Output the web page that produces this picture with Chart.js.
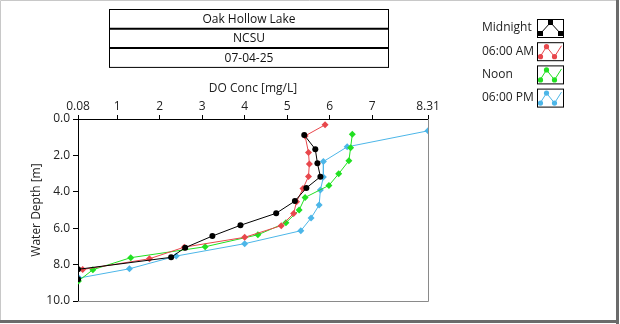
<!DOCTYPE html>
<html>
<head>
<meta charset="utf-8">
<script src="https://cdn.jsdelivr.net/npm/chart.js@4.4.1/dist/chart.umd.min.js"></script>
<style>
	html, body { margin: 0; padding: 0; background: #fff; }
	#wrap { position: relative; width: 620px; height: 324px; }
</style>
</head>
<body>
<div id="wrap"><canvas id="profile" width="620" height="324"></canvas></div>
<script>
const TITLE_LINES = ['Oak Hollow Lake', 'NCSU', '07-04-25'];

const X_TICKS = [0.08, 1, 2, 3, 4, 5, 6, 7, 8.31];
const Y_TICKS = [0, 2, 4, 6, 8, 10];

// DO concentration [mg/L] vs water depth [m]
const midnightDO = [5.40, 5.66, 5.71, 5.78, 5.45, 5.18, 4.74, 3.90, 3.24, 2.60, 2.27, 0.08, 0.08];
const midnightDepth = [0.88, 1.66, 2.43, 3.17, 3.79, 4.51, 5.18, 5.84, 6.43, 7.07, 7.60, 8.26, 8.81];

const amDO = [5.89, 5.42, 5.50, 5.52, 5.50, 5.37, 5.22, 5.15, 4.86, 4.00, 2.58, 1.76, 0.19];
const amDepth = [0.32, 0.93, 1.84, 2.47, 3.16, 3.82, 4.54, 5.19, 5.86, 6.50, 7.04, 7.68, 8.27];

const noonDO = [6.53, 6.49, 6.45, 6.21, 5.98, 5.42, 5.28, 4.97, 4.31, 3.07, 1.32, 0.43, 0.09];
const noonDepth = [0.84, 1.58, 2.29, 3.01, 3.65, 4.31, 5.00, 5.70, 6.36, 7.02, 7.62, 8.28, 8.90];

const pmDO = [8.31, 6.41, 5.85, 5.85, 5.78, 5.75, 5.56, 5.32, 4.00, 2.39, 1.29, 0.10];
const pmDepth = [0.65, 1.53, 2.34, 3.19, 3.90, 4.73, 5.44, 6.14, 6.85, 7.53, 8.23, 8.74];

const SERIES_LABELS = ['Midnight', '06:00 AM', 'Noon', '06:00 PM'];
const COLORS = ['#000000', '#e8474c', '#21e021', '#4cb6e8'];

const FONT = "'Open Sans', 'Noto Sans', sans-serif";

function pts(xs, ys) {
	return xs.map((x, i) => ({ x: x, y: ys[i] }));
}

function makeSet(i, xs, ys) {
	return {
		label: SERIES_LABELS[i],
		data: pts(xs, ys),
		showLine: true,
		borderColor: COLORS[i],
		backgroundColor: COLORS[i],
		borderWidth: 1,
		pointStyle: i === 0 ? 'circle' : 'rectRot',
		pointRadius: i === 0 ? 3 : 3.5,
		pointBorderWidth: 0,
		clip: 0,
	};
}

// title table, legend, frame, plot box right/bottom edges
const decor = {
	id: 'decor',
	beforeDatasetsDraw(chart) {
		const ctx = chart.ctx;
		const a = chart.chartArea;
		ctx.save();
		ctx.strokeStyle = '#8a8a8a';
		ctx.lineWidth = 1;
		ctx.beginPath();
		ctx.moveTo(a.right + 0.5, a.top);
		ctx.lineTo(a.right + 0.5, a.bottom + 0.5);
		ctx.lineTo(a.left, a.bottom + 0.5);
		ctx.stroke();
		ctx.restore();
	},
	afterDraw(chart) {
		const ctx = chart.ctx;
		ctx.save();

		// outer frame
		ctx.strokeStyle = '#c8c8c8';
		ctx.lineWidth = 1;
		ctx.beginPath();
		ctx.moveTo(0.5, 322);
		ctx.lineTo(0.5, 0.5);
		ctx.lineTo(618, 0.5);
		ctx.stroke();
		ctx.fillStyle = '#6b6b6b';
		ctx.fillRect(616, 0, 3, 324);
		ctx.fillRect(0, 320, 619, 3);

		// title table
		const tx = 109.5, tw = 279, ty = 9.5, rh = 19.3;
		ctx.strokeStyle = '#000';
		ctx.lineWidth = 1;
		ctx.strokeRect(tx, ty, tw, rh * 3);
		ctx.lineWidth = 2;
		for (let r = 1; r < 3; r++) {
			ctx.beginPath();
			ctx.moveTo(tx, ty + rh * r);
			ctx.lineTo(tx + tw, ty + rh * r);
			ctx.stroke();
		}
		ctx.fillStyle = '#111';
		ctx.font = '12px ' + FONT;
		ctx.textAlign = 'center';
		ctx.textBaseline = 'middle';
		TITLE_LINES.forEach((t, r) => {
			ctx.fillText(t, tx + tw / 2, ty + rh * r + rh / 2 + 0.5);
		});

		// legend
		ctx.textAlign = 'left';
		chart.data.datasets.forEach((ds, i) => {
			const top = 19 + i * 23.2;
			ctx.fillStyle = '#222';
			ctx.fillText(ds.label, 482, top + 9);
			const bx = 537.5, by = top + 0.5, bw = 26, bh = 18;
			ctx.fillStyle = '#fff';
			ctx.fillRect(bx, by, bw, bh);
			ctx.strokeStyle = '#000';
			ctx.lineWidth = 1;
			ctx.strokeRect(bx, by, bw, bh);
			let line, marks;
			if (i === 0) {
				line = [[3, 14], [13, 3], [23, 14]];
				marks = line;
			} else {
				line = [[2, 15], [9, 4], [17, 14], [24, 3]];
				marks = [[9, 4], [17, 14], [3, 14]];
			}
			ctx.strokeStyle = ds.borderColor;
			ctx.beginPath();
			line.forEach((p, k) => {
				if (k === 0) ctx.moveTo(bx + p[0], by + p[1]);
				else ctx.lineTo(bx + p[0], by + p[1]);
			});
			ctx.stroke();
			ctx.fillStyle = ds.borderColor;
			marks.forEach(p => {
				if (i === 0) {
					ctx.fillRect(bx + p[0] - 2.5, by + p[1] - 2.5, 5, 5);
				} else {
					ctx.beginPath();
					ctx.arc(bx + p[0], by + p[1], 2.6, 0, Math.PI * 2);
					ctx.fill();
				}
			});
		});
		ctx.restore();
	}
};

const config = {
	type: 'scatter',
	data: {
		datasets: [
			makeSet(0, midnightDO, midnightDepth),
			makeSet(1, amDO, amDepth),
			makeSet(2, noonDO, noonDepth),
			makeSet(3, pmDO, pmDepth),
		],
	},
	options: {
		responsive: false,
		animation: false,
		layout: { padding: { left: 22, top: 74, right: 192, bottom: 23 } },
		plugins: {
			legend: { display: false },
			tooltip: { enabled: false },
		},
		scales: {
			x: {
				type: 'linear',
				position: 'top',
				min: 0.08,
				max: 8.31,
				afterBuildTicks: (scale) => {
					scale.ticks = X_TICKS.map(v => ({ value: v }));
				},
				afterFit: (scale) => { scale.height = 45; },
				ticks: {
					color: '#222',
					font: { family: FONT, size: 12 },
					padding: 1,
					maxRotation: 0,
					autoSkip: false,
					callback: (v) => String(v),
				},
				grid: {
					drawOnChartArea: false,
					drawTicks: true,
					tickLength: 4,
					color: '#000',
				},
				border: { display: true, color: '#000', width: 1 },
				title: {
					display: true,
					text: 'DO Conc [mg/L]',
					color: '#222',
					font: { family: FONT, size: 12 },
					padding: { top: 7, bottom: 0 },
				},
			},
			y: {
				type: 'linear',
				reverse: true,
				min: 0,
				max: 10,
				afterBuildTicks: (scale) => {
					scale.ticks = Y_TICKS.map(v => ({ value: v }));
				},
				afterFit: (scale) => { scale.width = 56; },
				ticks: {
					color: '#222',
					font: { family: FONT, size: 12 },
					padding: 3,
					callback: (v) => Number(v).toFixed(1),
				},
				grid: {
					drawOnChartArea: false,
					drawTicks: true,
					tickLength: 5,
					color: '#000',
				},
				border: { display: true, color: '#000', width: 1 },
				title: {
					display: true,
					text: 'Water Depth [m]',
					color: '#222',
					font: { family: FONT, size: 12 },
					padding: { top: 7, bottom: 0 },
				},
			},
		},
	},
	plugins: [decor],
};

const profileChart = new Chart(document.getElementById('profile'), config);
</script>
</body>
</html>
